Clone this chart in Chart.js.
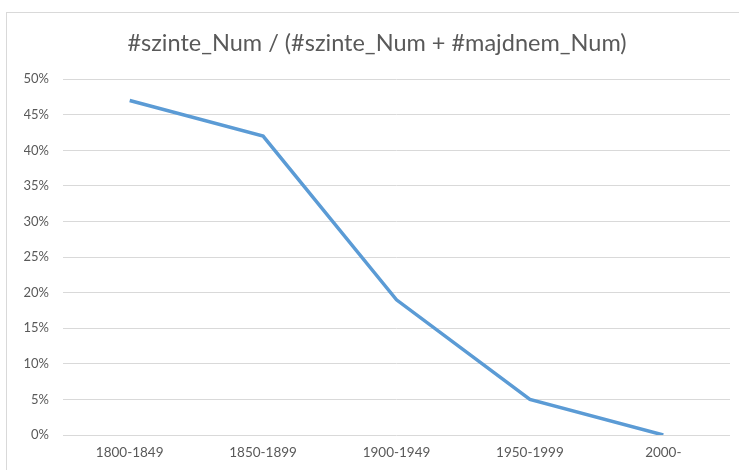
<!DOCTYPE html>
<html>
<head>
<meta charset="utf-8">
<script src="https://cdn.jsdelivr.net/npm/chart.js@4"></script>
<style>
  html, body { margin: 0; padding: 0; background: #fff; }
  body { width: 739px; height: 470px; position: relative; overflow: hidden; }
  #frame { position: absolute; left: 6px; top: 12px; width: 800px; height: 500px; border: 1px solid #d9d9d9; box-sizing: border-box; }
  #wrap { position: absolute; left: 0; top: 0; width: 739px; height: 470px; }
</style>
</head>
<body>
<div id="frame"></div>
<div id="wrap"><canvas id="c" width="739" height="470"></canvas></div>
<script>
const categories = ['1800-1849', '1850-1899', '1900-1949', '1950-1999', '2000-'];
const ratioValues = [0.47, 0.42, 0.19, 0.05, 0.0];
const titleText = '#szinte_Num / (#szinte_Num + #majdnem_Num)';

const FONT = "Lato, 'Liberation Sans', sans-serif";

new Chart(document.getElementById('c'), {
  type: 'line',
  data: {
    labels: categories,
    datasets: [{
      data: ratioValues,
      borderColor: '#5B9BD5',
      borderWidth: 3.5,
      pointRadius: 0,
      tension: 0,
      fill: false
    }]
  },
  options: {
    responsive: false,
    animation: false,
    devicePixelRatio: 1,
    layout: { padding: { left: 24, right: 9, top: 0, bottom: 0 } },
    plugins: {
      legend: { display: false },
      tooltip: { enabled: false },
      title: {
        display: true,
        text: titleText,
        color: '#595959',
        font: { family: FONT, size: 23.5, weight: 'normal', lineHeight: 1.2 },
        padding: { top: 29, bottom: 22 }
      }
    },
    scales: {
      x: {
        offset: true,
        grid: { display: false, drawTicks: false },
        border: { display: false },
        ticks: { color: '#595959', font: { family: FONT, size: 13.5 }, padding: 10, maxRotation: 0 },
        afterFit: s => { s.height = 35; }
      },
      y: {
        min: 0, max: 0.5,
        grid: { color: '#d9d9d9', lineWidth: 1, drawTicks: false },
        border: { display: false },
        ticks: {
          stepSize: 0.05,
          color: '#595959',
          font: { family: FONT, size: 13 },
          padding: 14,
          callback: v => Math.round(v * 100) + '%'
        },
        afterFit: s => { s.width = 39; }
      }
    }
  }
});
</script>
</body>
</html>
